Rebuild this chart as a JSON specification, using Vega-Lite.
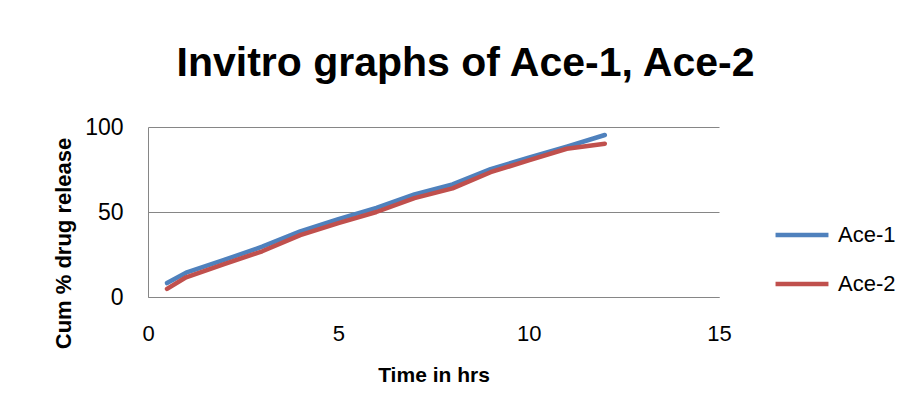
{
  "$schema": "https://vega.github.io/schema/vega-lite/v6.json",
  "autosize": "none",
  "width": 571,
  "height": 170,
  "padding": {"left": 148, "top": 127, "right": 189, "bottom": 117},
  "background": "white",
  "title": {
    "text": "Invitro graphs of Ace-1, Ace-2",
    "anchor": "middle",
    "frame": "group",
    "dx": 32,
    "offset": -1,
    "baseline": "alphabetic",
    "font": "Liberation Sans",
    "fontSize": 41,
    "fontWeight": "bold",
    "color": "#000000"
  },
  "data": {
    "values": [
      {"time": 0.5, "series": "Ace-1", "release": 8.2},
      {"time": 1, "series": "Ace-1", "release": 14.3},
      {"time": 2, "series": "Ace-1", "release": 21.8},
      {"time": 3, "series": "Ace-1", "release": 29.6},
      {"time": 4, "series": "Ace-1", "release": 38.6},
      {"time": 5, "series": "Ace-1", "release": 45.8},
      {"time": 6, "series": "Ace-1", "release": 52.4},
      {"time": 7, "series": "Ace-1", "release": 60.4},
      {"time": 8, "series": "Ace-1", "release": 66.2},
      {"time": 9, "series": "Ace-1", "release": 75.2},
      {"time": 10, "series": "Ace-1", "release": 81.9},
      {"time": 11, "series": "Ace-1", "release": 88.4},
      {"time": 12, "series": "Ace-1", "release": 95.3},
      {"time": 0.5, "series": "Ace-2", "release": 4.8},
      {"time": 1, "series": "Ace-2", "release": 11.6},
      {"time": 2, "series": "Ace-2", "release": 19.4},
      {"time": 3, "series": "Ace-2", "release": 26.9},
      {"time": 4, "series": "Ace-2", "release": 36.4},
      {"time": 5, "series": "Ace-2", "release": 43.5},
      {"time": 6, "series": "Ace-2", "release": 50.0},
      {"time": 7, "series": "Ace-2", "release": 58.2},
      {"time": 8, "series": "Ace-2", "release": 63.9},
      {"time": 9, "series": "Ace-2", "release": 73.4},
      {"time": 10, "series": "Ace-2", "release": 80.4},
      {"time": 11, "series": "Ace-2", "release": 87.2},
      {"time": 12, "series": "Ace-2", "release": 90.2}
    ]
  },
  "mark": {"type": "line", "strokeWidth": 4.5, "strokeCap": "round", "strokeJoin": "round"},
  "encoding": {
    "x": {
      "field": "time",
      "type": "quantitative",
      "scale": {"domain": [0, 15], "nice": false},
      "axis": {
        "title": "Time in hrs",
        "values": [0, 5, 10, 15],
        "grid": false,
        "ticks": false,
        "domain": true,
        "domainColor": "#868686",
        "domainWidth": 1,
        "labelFont": "Liberation Sans",
        "labelFontSize": 22,
        "labelColor": "#000000",
        "labelBaseline": "middle",
        "labelPadding": 36,
        "labelFlush": false,
        "titleFont": "Liberation Sans",
        "titleFontSize": 21,
        "titleFontWeight": "bold",
        "titleColor": "#000000",
        "titleX": 285.5,
        "titleY": 78,
        "titleBaseline": "middle",
        "titleAlign": "center"
      }
    },
    "y": {
      "field": "release",
      "type": "quantitative",
      "scale": {"domain": [0, 100], "nice": false},
      "axis": {
        "title": "Cum % drug release",
        "values": [0, 50, 100],
        "grid": true,
        "gridColor": "#868686",
        "gridWidth": 1,
        "ticks": false,
        "domain": true,
        "domainColor": "#868686",
        "domainWidth": 1,
        "labelFont": "Liberation Sans",
        "labelFontSize": 23,
        "labelColor": "#000000",
        "labelPadding": 25,
        "labelFlush": false,
        "titleFont": "Liberation Sans",
        "titleFontSize": 22,
        "titleFontWeight": "bold",
        "titleColor": "#000000",
        "titleAngle": 270,
        "titleX": -85,
        "titleY": 116,
        "titleBaseline": "middle",
        "titleAlign": "center"
      }
    },
    "color": {
      "field": "series",
      "type": "nominal",
      "scale": {"domain": ["Ace-1", "Ace-2"], "range": ["#4F81BD", "#C0504D"]},
      "legend": {
        "title": null,
        "orient": "none",
        "legendX": 625,
        "legendY": 79,
        "padding": 0,
        "symbolType": "stroke",
        "symbolSize": 2800,
        "symbolStrokeWidth": 4.5,
        "labelFont": "Liberation Sans",
        "labelFontSize": 22,
        "labelColor": "#000000",
        "labelOffset": 7,
        "rowPadding": 9
      }
    }
  },
  "config": {
    "view": {"stroke": null}
  }
}
